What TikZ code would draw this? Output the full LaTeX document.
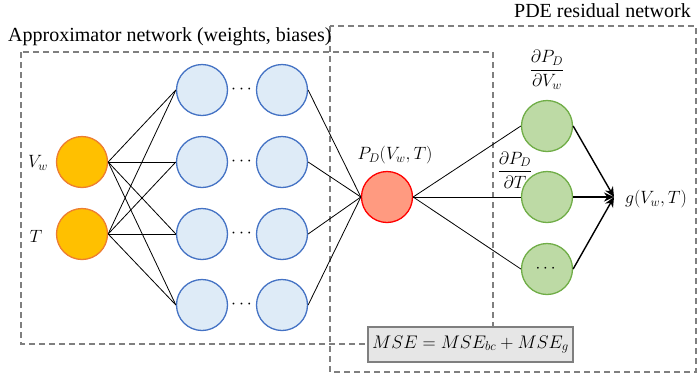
\documentclass[tikz,border=0pt]{standalone}
\usepackage{fix-cm}
\usepackage{amsmath}
\usepackage{fontspec}
\setmainfont{Liberation Serif}
\usetikzlibrary{arrows.meta}
\definecolor{inFill}{HTML}{FFC000}
\definecolor{inLine}{HTML}{ED7D31}
\definecolor{hidFill}{HTML}{DEEBF7}
\definecolor{hidLine}{HTML}{4472C4}
\definecolor{outFill}{HTML}{FF9A80}
\definecolor{outLine}{HTML}{FF0000}
\definecolor{grFill}{HTML}{BDDAA5}
\definecolor{grLine}{HTML}{70AD47}
\definecolor{boxGray}{HTML}{7F7F7F}
\definecolor{mseFill}{HTML}{E6E6E6}
\tikzset{
  neuron/.style={circle, minimum size=51pt, inner sep=0pt, line width=1.3pt},
  inneuron/.style={neuron, fill=inFill, draw=inLine},
  hidneuron/.style={neuron, fill=hidFill, draw=hidLine},
  outneuron/.style={neuron, fill=outFill, draw=outLine},
  grneuron/.style={neuron, fill=grFill, draw=grLine},
  conn/.style={line width=0.8pt, black},
  arr/.style={line width=1.4pt, black, -{Stealth[length=10pt,width=9pt]}},
  dbox/.style={draw=boxGray, line width=1.3pt, dash pattern=on 6pt off 4pt},
  titletext/.style={font=\fontsize{20}{24}\selectfont, inner sep=0pt},
  mathlbl/.style={font=\fontsize{17.8}{21}\selectfont, inner sep=0pt},
}
\begin{document}
\begin{tikzpicture}[x=1pt,y=-1pt]
\useasboundingbox (0,0) rectangle (699,376);
% dashed boxes
\draw[dbox] (330,26) rectangle (696,372);
\draw[dbox] (21,52) rectangle (493,344);
% titles
\node[titletext, anchor=base west] (t1) at (8,41) {Approximator network (weights, biases)};
\node[titletext, anchor=base east] (t2) at (691,17) {PDE residual network};
% input layer
\node[inneuron] (vw) at (82,162) {};
\node[inneuron] (tt) at (82,234) {};
\node[mathlbl] (lvw) at (38,163) {$V_w$};
\node[mathlbl] (ltt) at (36,236) {$T$};
% hidden layers
\foreach \i/\y in {1/90,2/162,3/234,4/305}{
  \node[hidneuron] (a\i) at (202,\y) {};
  \node[hidneuron] (b\i) at (282,\y) {};
  \node[mathlbl] (d\i) at (243,\y) {$\cdots$};
}
% output node
\node[outneuron] (pd) at (387,197) {};
\node[mathlbl] (lpd) at (395,155) {$P_D(V_w,T)$};
% green nodes
\node[grneuron] (g1) at (547,126) {};
\node[grneuron] (g2) at (547,197) {};
\node[grneuron] (g3) at (547,269) {\fontsize{17}{20}\selectfont$\cdots$};
\node[mathlbl] (lg1) at (547,70) {$\dfrac{\partial P_D}{\partial V_w}$};
\node[mathlbl] (lg2) at (515,170) {$\dfrac{\partial P_D}{\partial T}$};
\coordinate (tip) at (614,197);
\node[mathlbl, anchor=west] (lg) at (625,199) {$g(V_w,T)$};
% connectors
\foreach \i in {1,2,3,4}{
  \draw[conn] (vw.east) -- (a\i.west);
  \draw[conn] (tt.east) -- (a\i.west);
  \draw[conn] (b\i.east) -- (pd.west);
}
\foreach \i in {1,2,3}{
  \draw[conn] (pd.east) -- (g\i.west);
}
\draw[arr] (g1.east) -- (tip);
\draw[arr] (g2.east) -- (tip);
\draw[arr] (g3.east) -- (tip);
% MSE box
\node[draw=boxGray, fill=mseFill, line width=1.5pt, minimum width=205pt, minimum height=35pt, inner sep=0pt, font=\fontsize{18.2}{22}\selectfont] (mse) at (470.5,344.5) {$MSE = MSE_{bc} + MSE_g$};
\end{tikzpicture}
\end{document}
